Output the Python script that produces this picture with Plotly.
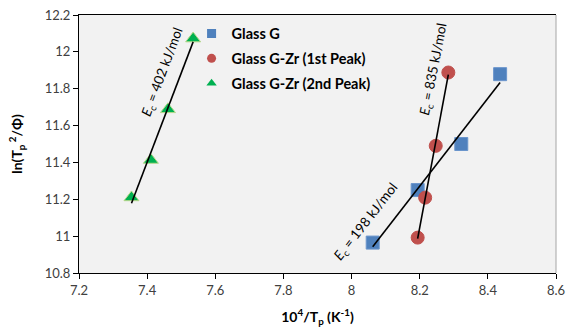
import numpy as np
import plotly.graph_objects as go

# Kissinger-type data: 10^4/Tp vs ln(Tp^2/Phi)
glass_g_x = [8.062, 8.194, 8.322, 8.436]
glass_g_y = [10.965, 11.25, 11.50, 11.879]

gzr_peak1_x = [8.194, 8.216, 8.247, 8.284]
gzr_peak1_y = [10.992, 11.209, 11.49, 11.888]

gzr_peak2_x = [7.354, 7.411, 7.461, 7.535]
gzr_peak2_y = [11.21, 11.413, 11.688, 12.072]

series_names = ["Glass G", "Glass G-Zr (1st Peak)", "Glass G-Zr (2nd Peak)"]
ec_labels = ["198", "835", "402"]

x_ticks = [7.2, 7.4, 7.6, 7.8, 8.0, 8.2, 8.4, 8.6]
y_ticks = [10.8, 11.0, 11.2, 11.4, 11.6, 11.8, 12.0, 12.2]

FONT = "Lato"
series = [
    (glass_g_x, glass_g_y, "square", "#4F81BD", "#6A95CC", 13),
    (gzr_peak1_x, gzr_peak1_y, "circle", "#C0504D", "#C0504D", 13),
    (gzr_peak2_x, gzr_peak2_y, "triangle-up", "#00B050", "#B8D88A", 13),
]

fig = go.Figure()

# data markers
for (xs, ys, sym, col, edge, sz), name in zip(series, series_names):
    fig.add_trace(go.Scatter(
        x=xs, y=ys, mode="markers", showlegend=False,
        marker=dict(symbol=sym, size=sz, color=col, line=dict(color=edge, width=1)),
    ))

# linear fits drawn over the markers
for xs, ys, *_ in series:
    k, b = np.polyfit(xs, ys, 1)
    x0, x1 = min(xs), max(xs)
    fig.add_trace(go.Scatter(
        x=[x0, x1], y=[k * x0 + b, k * x1 + b], mode="lines",
        line=dict(color="black", width=1.6), showlegend=False, hoverinfo="skip",
    ))

# compact legend entries
for i, ((xs, ys, sym, col, edge, sz), name) in enumerate(zip(series, series_names)):
    fig.add_trace(go.Scatter(
        x=[None], y=[None], mode="markers", name=name, legendgroup=str(i),
        marker=dict(symbol=sym, size=9, color=col, line=dict(width=0)),
    ))

# activation energy labels along each fit
label_pos = [(8.042, 11.079, -52), (8.242, 11.906, -79), (7.446, 11.89, -69.5)]
for (ax, ay, ang), ec in zip(label_pos, ec_labels):
    fig.add_annotation(
        x=ax, y=ay, xref="x", yref="y", showarrow=False, textangle=ang,
        text=f"<i>E</i><sub>c</sub> = {ec} kJ/mol",
        font=dict(family=FONT, size=13.5, color="black"),
    )

# light grey right border of the plot area
fig.add_shape(type="line", xref="paper", yref="paper", x0=1, x1=1, y0=0, y1=1,
              line=dict(color="#A6A6A6", width=1))

fig.update_layout(
    width=566, height=327,
    margin=dict(l=79, r=10, t=15, b=54, autoexpand=False),
    paper_bgcolor="white", plot_bgcolor="#F2F2F2",
    font=dict(family=FONT, size=13, color="#333333"),
    legend=dict(
        x=0.236, y=0.99, xanchor="left", yanchor="top",
        bgcolor="rgba(0,0,0,0)", traceorder="grouped", tracegroupgap=3,
        font=dict(family=FONT, size=14.5, color="black", weight="bold"),
        itemwidth=30,
    ),
    xaxis=dict(
        range=[7.2, 8.6], tickvals=x_ticks, ticktext=[f"{v:g}" for v in x_ticks],
        showgrid=False, zeroline=False, showline=True, linecolor="black", linewidth=1,
        mirror=True, ticks="outside", ticklen=5, tickcolor="black", automargin=False,
        tickfont=dict(family=FONT, size=13, color="#404040"),
        title=dict(text="10<sup>4</sup>/T<sub>p</sub> (K<sup>-1</sup>)",
                   font=dict(family=FONT, size=14, color="black", weight="bold"),
                   standoff=16),
    ),
    yaxis=dict(
        range=[10.8, 12.2], tickvals=y_ticks, ticktext=[f"{v:g}" for v in y_ticks],
        showgrid=False, zeroline=False, showline=True, linecolor="black", linewidth=1,
        ticks="outside", ticklen=5, tickcolor="black", automargin=False,
        tickfont=dict(family=FONT, size=13, color="#404040"),
        title=dict(text="ln(T<sub>p</sub><sup> 2</sup>/Φ)",
                   font=dict(family=FONT, size=14, color="black", weight="bold"),
                   standoff=18),
    ),
)

fig.write_html("out.html")
